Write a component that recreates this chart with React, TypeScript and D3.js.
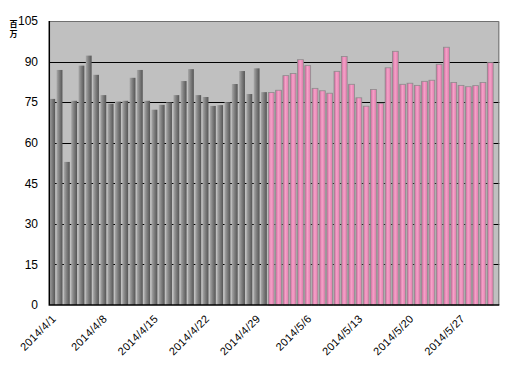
import { useEffect, useRef } from 'react';
import * as d3 from 'd3';

// daily values, millions
const aprilValues = [
  76.2, 86.9, 52.9, 75.5, 88.5, 92.2, 85.1, 77.6, 74.4, 75.2,
  75.5, 84.0, 86.9, 75.5, 72.2, 74.0, 74.9, 77.6, 82.8, 87.2,
  77.6, 76.9, 73.6, 73.9, 75.0, 81.7, 86.5, 78.0, 87.5, 78.7,
];
const mayValues = [
  78.6, 79.4, 84.8, 85.6, 90.7, 88.5, 80.1, 79.2, 78.3, 86.4,
  91.9, 81.6, 76.6, 73.5, 79.7, 74.6, 87.7, 93.8, 81.6, 82.0,
  81.2, 82.7, 83.1, 89.0, 95.3, 82.3, 81.2, 80.7, 81.1, 82.3, 89.6,
];
const tickLabels = [
  '2014/4/1', '2014/4/8', '2014/4/15', '2014/4/22', '2014/4/29',
  '2014/5/6', '2014/5/13', '2014/5/20', '2014/5/27',
];
const yTicks = [0, 15, 30, 45, 60, 75, 90, 105];
const unitChars = ['百', '万'];

const W = 513;
const H = 366;

const App = () => {
  const ref = useRef<SVGSVGElement>(null);

  useEffect(() => {
    if (!ref.current) return;
    const svg = d3.select(ref.current);
    svg.selectAll('*').remove();

    const days = d3.timeDay.range(new Date(2014, 3, 1), new Date(2014, 5, 1));
    const fmt = (d: Date) => `${d.getFullYear()}/${d.getMonth() + 1}/${d.getDate()}`;
    const data = days.map((d, i) => ({
      label: fmt(d),
      value: i < aprilValues.length ? aprilValues[i] : mayValues[i - aprilValues.length],
      may: i >= aprilValues.length,
    }));

    const left = 49.3, right = 499.3, top = 21, bottom = 305;

    const x = d3.scaleBand<string>()
      .domain(data.map(d => d.label))
      .range([left, right])
      .paddingInner(0.2)
      .paddingOuter(0.42)
      .align(0);
    const y = d3.scaleLinear().domain([0, 105]).range([bottom, top]);

    const defs = svg.append('defs');
    const grayGrad = defs.append('linearGradient').attr('id', 'grayBar');
    grayGrad.append('stop').attr('offset', '0%').attr('stop-color', '#a8a8a8');
    grayGrad.append('stop').attr('offset', '45%').attr('stop-color', '#808080');
    grayGrad.append('stop').attr('offset', '100%').attr('stop-color', '#555555');
    const pinkGrad = defs.append('linearGradient').attr('id', 'pinkBar');
    pinkGrad.append('stop').attr('offset', '0%').attr('stop-color', '#c8689a');
    pinkGrad.append('stop').attr('offset', '45%').attr('stop-color', '#f6a2c8');
    pinkGrad.append('stop').attr('offset', '100%').attr('stop-color', '#e07aac');

    svg.append('rect').attr('width', W).attr('height', H).attr('fill', '#fff');

    // plot background
    svg.append('rect')
      .attr('x', left).attr('y', top)
      .attr('width', right - left).attr('height', bottom - top)
      .attr('fill', '#c0c0c0');

    // gridlines (behind the bars)
    svg.append('g')
      .selectAll('line')
      .data(yTicks.filter(t => t > 0 && t < 105))
      .enter()
      .append('line')
      .attr('x1', left).attr('x2', right)
      .attr('y1', d => Math.round(y(d)) + 0.5)
      .attr('y2', d => Math.round(y(d)) + 0.5)
      .attr('stroke', '#000')
      .attr('stroke-width', 1);

    // bars
    svg.append('g')
      .selectAll('rect')
      .data(data)
      .enter()
      .append('rect')
      .attr('x', d => x(d.label)!)
      .attr('y', d => y(d.value))
      .attr('width', x.bandwidth())
      .attr('height', d => bottom - y(d.value))
      .attr('fill', d => (d.may ? 'url(#pinkBar)' : 'url(#grayBar)'))
      .attr('stroke', d => (d.may ? '#8c8c8c' : 'none'))
      .attr('stroke-width', 0.8);

    // frame
    svg.append('path')
      .attr('d', `M${left},${top + 0.5}H${right - 0.5}V${bottom}`)
      .attr('fill', 'none')
      .attr('stroke', '#707070');
    svg.append('path')
      .attr('d', `M${left},${top}V${bottom}H${right}`)
      .attr('fill', 'none')
      .attr('stroke', '#000')
      .attr('stroke-width', 1.5);

    // y labels
    svg.append('g')
      .selectAll('text')
      .data(yTicks)
      .enter()
      .append('text')
      .attr('x', 38)
      .attr('y', d => y(d))
      .attr('dy', '0.36em')
      .attr('text-anchor', 'end')
      .style('font-family', '"Liberation Sans", Arial, sans-serif')
      .style('font-size', '12px')
      .style('fill', '#000')
      .text(d => d.toString());

    // unit, stacked vertically
    svg.append('g')
      .selectAll('text')
      .data(unitChars)
      .enter()
      .append('text')
      .attr('x', 13.5)
      .attr('y', (d, i) => 27 + i * 9.5)
      .attr('text-anchor', 'middle')
      .style('font-family', '"Noto Sans CJK JP", sans-serif')
      .style('font-size', '8px')
      .style('font-weight', 'bold')
      .style('fill', '#000')
      .text(d => d);

    // x labels
    svg.append('g')
      .selectAll('text')
      .data(tickLabels)
      .enter()
      .append('text')
      .attr('transform', d => `translate(${x(d)! + x.bandwidth() / 2 - 1},${314}) rotate(-45)`)
      .attr('text-anchor', 'end')
      .attr('dy', '0.7em')
      .style('font-family', '"Liberation Sans", Arial, sans-serif')
      .style('font-size', '11px')
      .style('letter-spacing', '0.3px')
      .style('fill', '#000')
      .text(d => d);
  }, []);

  return (
    <svg
      ref={ref}
      width={W}
      height={H}
      style={{ position: 'absolute', left: 0, top: 0, display: 'block' }}
    />
  );
};

export default App;
